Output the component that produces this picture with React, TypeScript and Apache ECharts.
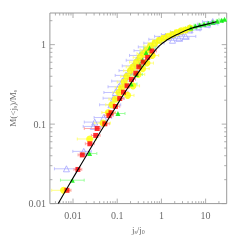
import React, { useEffect, useRef } from "react";
import * as echarts from "echarts";

// axis ranges
const X_MIN = 0.003, X_MAX = 30;
const Y_MIN = 0.01, Y_MAX = 2.5;
const xMajor = [0.01, 0.1, 1, 10];
const yMajor = [0.01, 0.1, 1];

// model curve
const curveJ = [0.00463, 0.0092, 0.0183, 0.0363, 0.0574, 0.0908, 0.1435, 0.227, 0.358, 0.566, 0.896, 1.415, 2.24, 4.44, 8.83, 17.5];
const curveM = [0.01, 0.0194, 0.0369, 0.0705, 0.1065, 0.161, 0.243, 0.357, 0.511, 0.711, 0.962, 1.167, 1.34, 1.58, 1.76, 1.94];

// blue open triangles
const blueJ = [0.0071, 0.0175, 0.0288, 0.031, 0.0494, 0.0723, 0.0828, 0.0908, 0.109, 0.131, 0.157, 0.189, 0.227, 0.272, 0.327, 0.411, 0.518, 0.68, 0.896, 1.23, 1.78, 2.81, 4.44, 7.03, 11.1, 2.47, 3.53, 1.78, 14.5];
const blueM = [0.0274, 0.0454, 0.0935, 0.106, 0.121, 0.175, 0.212, 0.25, 0.295, 0.348, 0.41, 0.471, 0.54, 0.636, 0.731, 0.84, 0.936, 1.045, 1.167, 1.27, 1.34, 1.45, 1.53, 1.67, 1.81, 1.2, 1.27, 1.135, 1.95];
const blueLo = [0.0038, 0.0099, 0.017, 0.018, 0.03, 0.04, 0.048, 0.05, 0.062, 0.075, 0.09, 0.11, 0.13, 0.16, 0.19, 0.24, 0.3, 0.4, 0.52, 0.7, 1.0, 1.6, 2.6, 4.0, 6.5, 1.45, 2.0, 1.0, 8.5];
const blueHi = [0.0125, 0.026, 0.045, 0.05, 0.075, 0.12, 0.14, 0.15, 0.18, 0.22, 0.26, 0.32, 0.38, 0.45, 0.55, 0.7, 0.88, 1.15, 1.5, 2.1, 3.0, 4.8, 7.5, 12, 19, 4.2, 6.0, 3.0, 24];

// yellow circles
const yelJ = [0.0061, 0.0238, 0.0479, 0.063, 0.0757, 0.0908, 0.109, 0.125, 0.1435, 0.165, 0.198, 0.227, 0.272, 0.327, 0.393, 0.472, 0.566, 0.713, 0.896, 1.125, 1.415, 1.78, 2.24, 2.81, 3.53, 4.44, 0.172, 0.227, 0.298, 0.375, 0.472, 0.62];
const yelM = [0.0147, 0.065, 0.103, 0.14, 0.175, 0.206, 0.25, 0.287, 0.338, 0.399, 0.471, 0.525, 0.603, 0.692, 0.773, 0.862, 0.962, 1.045, 1.135, 1.2, 1.27, 1.34, 1.415, 1.49, 1.53, 1.62, 0.23, 0.303, 0.422, 0.498, 0.586, 0.731];
const yelLo = [0.0033, 0.0125, 0.03, 0.045, 0.055, 0.065, 0.08, 0.09, 0.1, 0.12, 0.14, 0.16, 0.19, 0.23, 0.28, 0.33, 0.4, 0.5, 0.63, 0.8, 1.0, 1.25, 1.6, 2.0, 2.5, 3.1, 0.12, 0.16, 0.21, 0.26, 0.33, 0.44];
const yelHi = [0.0085, 0.034, 0.07, 0.09, 0.105, 0.125, 0.15, 0.175, 0.2, 0.23, 0.28, 0.32, 0.38, 0.46, 0.55, 0.66, 0.8, 1.0, 1.25, 1.6, 2.0, 2.5, 3.1, 3.9, 5.0, 6.2, 0.24, 0.32, 0.42, 0.53, 0.66, 0.87];

// red squares
const redJ = [0.0073, 0.0129, 0.0162, 0.0241, 0.0327, 0.0352, 0.0525, 0.065, 0.0723, 0.0908, 0.114, 0.139, 0.167, 0.21, 0.264, 0.308, 0.387, 0.488, 0.612];
const redM = [0.0147, 0.0269, 0.041, 0.0566, 0.072, 0.088, 0.101, 0.128, 0.139, 0.167, 0.21, 0.252, 0.303, 0.365, 0.437, 0.525, 0.603, 0.692, 0.832];
const redLo = [0.006, 0.0105, 0.013, 0.019, 0.026, 0.018, 0.042, 0.052, 0.058, 0.072, 0.09, 0.11, 0.13, 0.17, 0.21, 0.245, 0.31, 0.39, 0.49];
const redHi = [0.009, 0.0158, 0.02, 0.03, 0.041, 0.042, 0.066, 0.081, 0.09, 0.114, 0.143, 0.175, 0.21, 0.26, 0.33, 0.385, 0.48, 0.61, 0.77];

// green filled triangles
const grnJ = [0.00964, 0.0238, 0.104, 0.207, 0.272, 0.327, 0.375, 0.451, 0.54, 4.66, 5.85, 7.36, 9.25, 11.6, 14.6, 18.4, 23.1, 26.8];
const grnM = [0.0197, 0.0427, 0.136, 0.32, 0.422, 0.554, 0.636, 0.794, 0.91, 1.62, 1.71, 1.76, 1.81, 1.86, 1.91, 1.97, 2.02, 2.08];
const grnLo = [0.0052, 0.0157, 0.07, 0.15, 0.2, 0.24, 0.28, 0.33, 0.4, 3.5, 4.4, 5.5, 7.0, 8.8, 11, 14, 17.5, 20];
const grnHi = [0.0179, 0.0346, 0.15, 0.28, 0.37, 0.44, 0.5, 0.61, 0.73, 6.2, 7.8, 9.8, 12.3, 15.4, 19.3, 24.2, 30, 30];

const FONT = "Liberation Serif";
const AXIS_GREY = "#9a9a9a";
const TEXT_GREY = "#6a6a6a";

function pts(j: number[], m: number[]) {
  return j.map((v, i) => [v, m[i]]);
}
function errs(lo: number[], hi: number[], m: number[]) {
  return lo.map((v, i) => [v, hi[i], m[i]]);
}

function errSeries(data: number[][], color: string) {
  return {
    type: "custom",
    silent: true,
    clip: true,
    encode: { x: [0, 1], y: 2 },
    data,
    renderItem: (params: any, api: any) => {
      const a = api.coord([api.value(0), api.value(2)]);
      const b = api.coord([api.value(1), api.value(2)]);
      const st = { stroke: color, lineWidth: 0.8 };
      return {
        type: "group",
        children: [
          { type: "line", shape: { x1: a[0], y1: a[1], x2: b[0], y2: b[1] }, style: st },
          { type: "line", shape: { x1: a[0], y1: a[1] - 1.5, x2: a[0], y2: a[1] + 1.5 }, style: st },
          { type: "line", shape: { x1: b[0], y1: b[1] - 1.5, x2: b[0], y2: b[1] + 1.5 }, style: st },
        ],
      };
    },
  };
}

function minorTicks(lo: number, hi: number) {
  const out: number[] = [];
  for (let d = -4; d <= 2; d++) {
    for (let k = 2; k <= 9; k++) {
      const v = k * Math.pow(10, d);
      if (v > lo * 1.0001 && v < hi * 0.9999) out.push(v);
    }
  }
  return out;
}

export default function App() {
  const ref = useRef<HTMLDivElement>(null);
  useEffect(() => {
    if (!ref.current) return;
    const chart = echarts.init(ref.current, undefined, { renderer: "svg" });
    const xTickData = [
      ...xMajor.map((v) => [v, 0.1, 1]),
      ...minorTicks(X_MIN, X_MAX).map((v) => [v, 0.1, 0]),
    ];
    const yTickData = [
      ...yMajor.map((v) => [0.1, v, 1]),
      ...minorTicks(Y_MIN, Y_MAX).map((v) => [0.1, v, 0]),
    ];
    const fmt = (v: number) => {
      const l = Math.log10(v);
      if (Math.abs(l - Math.round(l)) > 1e-6) return "";
      return String(Number(v.toPrecision(3)));
    };
    chart.setOption({
      animation: false,
      grid: {
        left: 25.5,
        right: 13.3,
        top: 13,
        bottom: 26,
        show: true,
        borderColor: AXIS_GREY,
        borderWidth: 1,
        backgroundColor: "transparent",
      },
      xAxis: {
        type: "log",
        logBase: 10,
        min: X_MIN,
        max: X_MAX,
        splitNumber: 4,
        axisLine: { show: false },
        axisTick: { show: false },
        splitLine: { show: false },
        axisLabel: {
          formatter: fmt,
          showMinLabel: false,
          showMaxLabel: false,
          fontFamily: FONT,
          fontSize: 10,
          color: TEXT_GREY,
          margin: 7,
        },
        name: "{a|j}{s|s}{a|/j}{s|0}",
        nameLocation: "middle",
        nameGap: 21,
        nameTextStyle: {
          rich: {
            a: { fontFamily: FONT, fontSize: 9, color: TEXT_GREY },
            s: { fontFamily: FONT, fontSize: 6, color: TEXT_GREY, padding: [4, 0, 0, 0] },
          },
        },
      },
      yAxis: {
        type: "log",
        logBase: 10,
        min: Y_MIN,
        max: Y_MAX,
        splitNumber: 3,
        axisLine: { show: false },
        axisTick: { show: false },
        splitLine: { show: false },
        axisLabel: {
          formatter: fmt,
          showMinLabel: true,
          showMaxLabel: false,
          fontFamily: FONT,
          fontSize: 10,
          color: TEXT_GREY,
          margin: 4,
        },
        name: "{a|M(<j}{s|s}{a|)/M}{s|s}",
        nameLocation: "middle",
        nameGap: 15,
        nameRotate: 90,
        nameTextStyle: {
          rich: {
            a: { fontFamily: FONT, fontSize: 9, color: TEXT_GREY },
            s: { fontFamily: FONT, fontSize: 6, color: TEXT_GREY, padding: [4, 0, 0, 0] },
          },
        },
      },
      series: [
        {
          type: "custom",
          silent: true,
          clip: false,
          encode: { x: 0, y: 1 },
          data: xTickData,
          renderItem: (params: any, api: any) => {
            const v = api.value(0);
            const len = api.value(2) ? 5 : 2.5;
            const b = api.coord([v, Y_MIN]);
            const t = api.coord([v, Y_MAX]);
            const st = { stroke: AXIS_GREY, lineWidth: 0.8 };
            return {
              type: "group",
              children: [
                { type: "line", shape: { x1: b[0], y1: b[1], x2: b[0], y2: b[1] - len }, style: st },
                { type: "line", shape: { x1: t[0], y1: t[1], x2: t[0], y2: t[1] + len }, style: st },
              ],
            };
          },
        },
        {
          type: "custom",
          silent: true,
          clip: false,
          encode: { x: 0, y: 1 },
          data: yTickData,
          renderItem: (params: any, api: any) => {
            const v = api.value(1);
            const len = api.value(2) ? 5 : 2.5;
            const l = api.coord([X_MIN, v]);
            const r = api.coord([X_MAX, v]);
            const st = { stroke: AXIS_GREY, lineWidth: 0.8 };
            return {
              type: "group",
              children: [
                { type: "line", shape: { x1: l[0], y1: l[1], x2: l[0] + len, y2: l[1] }, style: st },
                { type: "line", shape: { x1: r[0], y1: r[1], x2: r[0] - len, y2: r[1] }, style: st },
              ],
            };
          },
        },
        errSeries(errs(blueLo, blueHi, blueM), "#b4b4ff"),
        {
          type: "scatter",
          data: pts(blueJ, blueM),
          symbol: "triangle",
          symbolSize: 6,
          itemStyle: { color: "rgba(0,0,0,0)", borderColor: "#9a9aff", borderWidth: 0.9 },
        },
        errSeries(errs(yelLo, yelHi, yelM), "#ffff66"),
        {
          type: "scatter",
          data: pts(yelJ, yelM),
          symbol: "circle",
          symbolSize: 7,
          itemStyle: { color: "#ffff00" },
        },
        errSeries(errs(grnLo, grnHi, grnM), "#88ff88"),
        {
          type: "scatter",
          data: pts(grnJ, grnM),
          symbol: "triangle",
          symbolSize: 5,
          itemStyle: { color: "#00ee00" },
        },
        errSeries(errs(redLo, redHi, redM), "#ff9090"),
        {
          type: "scatter",
          data: pts(redJ, redM),
          symbol: "rect",
          symbolSize: 5,
          itemStyle: { color: "#ff0000" },
        },
        {
          type: "line",
          data: pts(curveJ, curveM),
          symbol: "none",
          smooth: true,
          lineStyle: { color: "#000", width: 1.1 },
          z: 5,
        },
      ],
    });
    return () => chart.dispose();
  }, []);
  return <div ref={ref} style={{ position: "fixed", left: 0, top: 0, width: 240, height: 240 }} />;
}
